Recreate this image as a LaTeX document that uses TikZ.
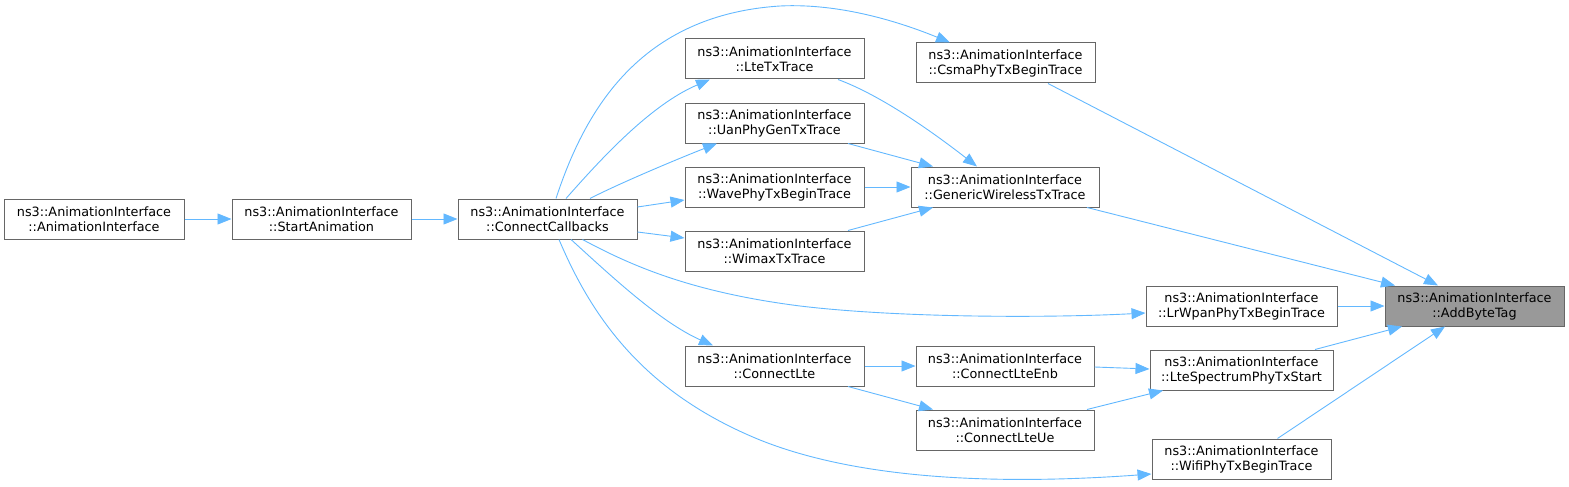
\documentclass[tikz,border=0pt]{standalone}
\usepackage{fontspec}
\setmainfont{DejaVu Sans}
\usetikzlibrary{arrows.meta}
\definecolor{edgec}{HTML}{63B8FF}
\definecolor{boxc}{HTML}{666666}
\definecolor{hilite}{HTML}{999999}
\begin{document}
\begin{tikzpicture}[x=1pt,y=-1pt,
  fn/.style={draw=boxc,line width=1pt,fill=white,inner sep=0pt,minimum height=40pt,align=center,font=\fontsize{12.8}{15}\selectfont},
  cur/.style={fn,fill=hilite},
  call/.style={draw=edgec,line width=0.9pt,-{Triangle[length=14pt,width=11pt]}}]
\useasboundingbox (0,0) rectangle (1569,487);
\node[fn,minimum width=180pt] (ai) at (94,219) {ns3::AnimationInterface\\::AnimationInterface};
\node[fn,minimum width=179pt] (sa) at (321.5,219) {ns3::AnimationInterface\\::StartAnimation};
\node[fn,minimum width=179pt] (cc) at (547.5,219) {ns3::AnimationInterface\\::ConnectCallbacks};
\node[fn,minimum width=179pt] (ltetx) at (774.5,59) {ns3::AnimationInterface\\::LteTxTrace};
\node[fn,minimum width=179pt] (uan) at (774.5,123) {ns3::AnimationInterface\\::UanPhyGenTxTrace};
\node[fn,minimum width=179pt] (wave) at (774.5,187) {ns3::AnimationInterface\\::WavePhyTxBeginTrace};
\node[fn,minimum width=179pt] (wimax) at (774.5,251) {ns3::AnimationInterface\\::WimaxTxTrace};
\node[fn,minimum width=179pt] (clte) at (774.5,366) {ns3::AnimationInterface\\::ConnectLte};
\node[fn,minimum width=179pt] (csma) at (1005.5,63) {ns3::AnimationInterface\\::CsmaPhyTxBeginTrace};
\node[fn,minimum width=188pt] (gwt) at (1005,187) {ns3::AnimationInterface\\::GenericWirelessTxTrace};
\node[fn,minimum width=178pt] (enb) at (1005,366) {ns3::AnimationInterface\\::ConnectLteEnb};
\node[fn,minimum width=178pt] (ue) at (1005,430) {ns3::AnimationInterface\\::ConnectLteUe};
\node[fn,minimum width=191pt] (lrwpan) at (1241.5,306) {ns3::AnimationInterface\\::LrWpanPhyTxBeginTrace};
\node[fn,minimum width=183pt] (ltespec) at (1241.5,370) {ns3::AnimationInterface\\::LteSpectrumPhyTxStart};
\node[fn,minimum width=179pt] (wifi) at (1241.5,459) {ns3::AnimationInterface\\::WifiPhyTxBeginTrace};
\node[cur,minimum width=179pt] (abt) at (1474.5,306) {ns3::AnimationInterface\\::AddByteTag};
% edges
\draw[call] (ai.east) -- (sa.west);
\draw[call] (sa.east) -- (cc.west);
\draw[call] ([xshift=8.5pt]cc.north) .. controls (585,110) and (640,15) .. (780,6) .. controls (840,3) and (900,22) .. ([xshift=-55.5pt]csma.north);
\draw[call] ([xshift=18.5pt]cc.north) .. controls (600,160) and (650,105) .. ([xshift=-64.5pt]ltetx.south);
\draw[call] ([xshift=42.5pt]cc.north) .. controls (620,183) and (680,158) .. ([xshift=-57.5pt]uan.south);
\draw[call] ([yshift=12pt]cc.east) -- ([yshift=-13pt]wave.west);
\draw[call] ([yshift=-13pt]cc.east) -- ([yshift=13pt]wimax.west);
\draw[call] ([xshift=35pt]cc.south) .. controls (630,265) and (690,292) .. (800,306) .. controls (900,318) and (1050,318) .. ([yshift=-7pt]lrwpan.west);
\draw[call] ([xshift=23.5pt]cc.south) .. controls (610,275) and (660,322) .. ([xshift=-61.5pt]clte.north);
\draw[call] ([xshift=11.5pt]cc.south) .. controls (595,325) and (650,395) .. (760,440) .. controls (860,480) and (1000,485) .. ([yshift=-15pt]wifi.west);
\draw[call] ([xshift=63.5pt]ltetx.south) .. controls (880,95) and (930,130) .. ([xshift=-28pt]gwt.north);
\draw[call] ([xshift=73.5pt]uan.south) -- ([xshift=-72pt]gwt.north);
\draw[call] (wave.east) -- (gwt.west);
\draw[call] ([xshift=73.5pt]wimax.north) -- ([xshift=-72pt]gwt.south);
\draw[call] (clte.east) -- (enb.west);
\draw[call] ([xshift=73.5pt]clte.south) -- ([xshift=-72pt]ue.north);
\draw[call] ([yshift=-1pt]enb.east) -- ([yshift=1pt]ltespec.west);
\draw[call] ([xshift=82pt]ue.north) -- ([xshift=-78.5pt]ltespec.south);
\draw[call] ([xshift=42.5pt]csma.south) -- ([xshift=-36.5pt]abt.north);
\draw[call] ([xshift=82pt]gwt.south) -- ([xshift=-79.5pt]abt.north);
\draw[call] (lrwpan.east) -- (abt.west);
\draw[call] ([xshift=73.5pt]ltespec.north) -- ([xshift=-72.5pt]abt.south);
\draw[call] ([xshift=36pt]wifi.north) -- ([xshift=-29.5pt]abt.south);
\end{tikzpicture}
\end{document}
